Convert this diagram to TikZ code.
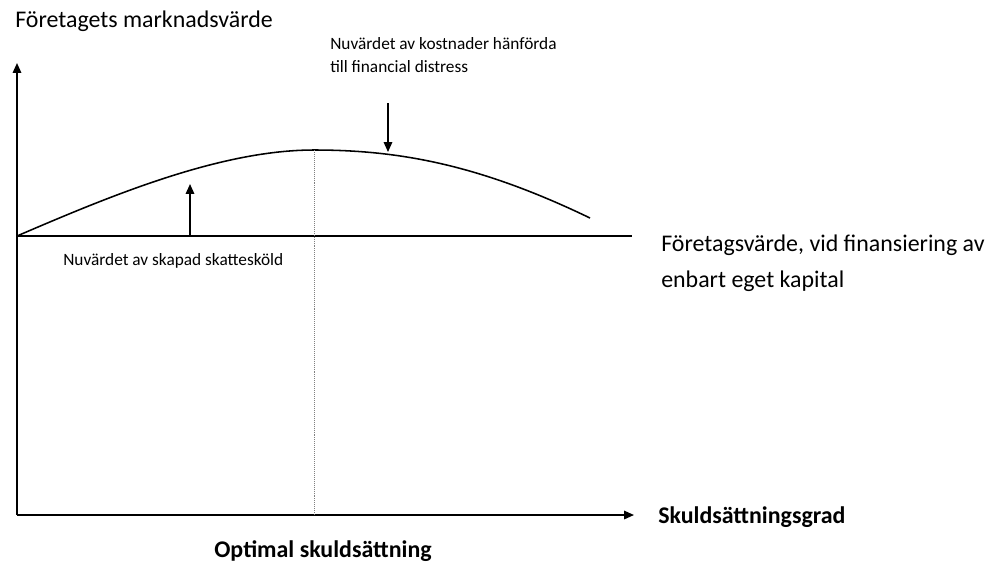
\documentclass[tikz,border=0pt]{standalone}
\usepackage{fontspec}
\setmainfont{Carlito}
\usetikzlibrary{arrows.meta}

\tikzset{
  axis/.style={line width=1.1pt, -{Triangle[length=7pt,width=6pt]}},
  pointer/.style={line width=1.1pt, -{Triangle[length=7pt,width=6pt]}},
  bigtext/.style={font=\fontsize{17}{20}\selectfont, inner sep=0pt},
  smalltext/.style={font=\fontsize{12.3}{16.4}\selectfont, inner sep=0pt, align=left},
  boldtext/.style={font=\fontsize{17}{20}\selectfont\bfseries, inner sep=0pt}
}

\begin{document}
\begin{tikzpicture}[x=0.025cm,y=-0.025cm]
\useasboundingbox (0,0) rectangle (986,562);

% axes
\coordinate (o) at (17,515);
\coordinate (ytop) at (17,63);
\coordinate (xend) at (634,515);
\draw[axis] (o)--(ytop);
\draw[axis] (o)--(xend);

% equity value line
\coordinate (b0) at (17,236);
\coordinate (b1) at (632,236);
\draw[line width=1.1pt] (b0)--(b1);

% market value curve
\coordinate (peak) at (314,150);
\coordinate (cend) at (590,218);
\draw[line width=1.1pt] (b0) .. controls (110,196) and (220,150) .. (peak)
  .. controls (400,150) and (480,165) .. (cend);

% optimum
\coordinate (opt) at (314,515);
\draw[densely dotted, gray] (peak)--(opt);

% tax shield / distress arrows
\coordinate (up0) at (190,236);
\coordinate (up1) at (190,184);
\draw[pointer] (up0)--(up1);
\coordinate (dn0) at (388,103);
\coordinate (dn1) at (388,152);
\draw[pointer] (dn0)--(dn1);

% labels
\node[bigtext, anchor=west] (ylab) at (15,21) {Företagets marknadsvärde};
\node[smalltext, anchor=north west] (dist) at (330,37) {Nuvärdet av kostnader hänförda\\till financial distress};
\node[smalltext, anchor=west] (skold) at (63,261) {Nuvärdet av skapad skattesköld};
\node[bigtext, anchor=west] (eq1) at (661,245) {Företagsvärde, vid finansiering av};
\node[bigtext, anchor=west] (eq2) at (661,281) {enbart eget kapital};
\node[boldtext, anchor=west] (xlab) at (658,517) {Skuldsättningsgrad};
\node[boldtext, anchor=center] (optlab) at (323,551) {Optimal skuldsättning};

\end{tikzpicture}
\end{document}
